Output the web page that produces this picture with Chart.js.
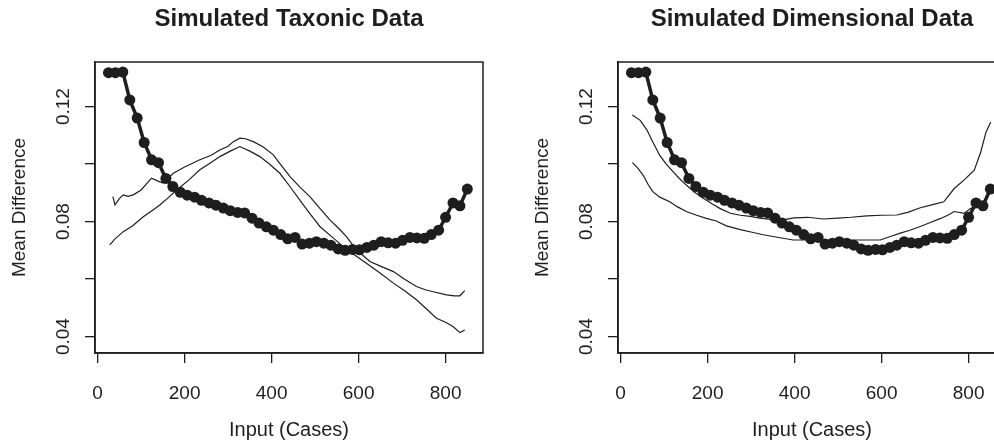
<!DOCTYPE html>
<html>
<head>
<meta charset="utf-8">
<script src="https://cdn.jsdelivr.net/npm/chart.js@4/dist/chart.umd.min.js"></script>
<style>
  html, body { margin: 0; padding: 0; background: #fff; overflow: hidden; }
  #wrap { display: flex; width: 1046px; height: 446px; }
  canvas { display: block; }
</style>
</head>
<body>
<div id="wrap">
  <canvas id="taxonic" width="523" height="446"></canvas>
  <canvas id="dimensional" width="523" height="446"></canvas>
</div>
<script>
// observed data (same in both panels)
const caseX = [25, 41, 58, 74, 91, 107, 124, 140, 157, 173, 190, 206, 223, 239, 256, 272, 289, 305, 322, 338,
  355, 371, 388, 404, 421, 437, 454, 470, 487, 503, 520, 536, 553, 569, 586, 602, 619, 635, 652, 668,
  685, 701, 718, 734, 751, 767, 784, 800, 817, 833, 850];
const meanDiff = [0.1318, 0.1318, 0.1320, 0.1223, 0.1160, 0.1075, 0.1015, 0.1005, 0.0950, 0.0922,
  0.0902, 0.0892, 0.0885, 0.0874, 0.0865, 0.0857, 0.0847, 0.0838, 0.0832, 0.0830,
  0.0812, 0.0795, 0.0782, 0.0770, 0.0755, 0.0740, 0.0745, 0.0722, 0.0725, 0.0730,
  0.0725, 0.0718, 0.0705, 0.0700, 0.0703, 0.0702, 0.0710, 0.0718, 0.0730, 0.0726,
  0.0725, 0.0735, 0.0745, 0.0743, 0.0742, 0.0755, 0.0770, 0.0815, 0.0865, 0.0855, 0.0913];

// simulated taxonic comparison curves
const taxAX = [35, 40, 50, 59, 70, 82, 100, 124, 140, 151, 174, 200, 235, 260, 281, 300, 312, 327, 340, 358,
  380, 404, 420, 442, 465, 488, 510, 534, 555, 572, 595, 626, 650, 680, 705, 733, 755, 772, 802, 820, 833, 844];
const taxAY = [0.0887, 0.0858, 0.0880, 0.0893, 0.0888, 0.0893, 0.0910, 0.0951, 0.0940, 0.0934, 0.0968, 0.0990,
  0.1015, 0.1030, 0.1049, 0.1062, 0.1078, 0.1090, 0.1088, 0.1078, 0.1060, 0.1032, 0.1000, 0.0957, 0.0920,
  0.0887, 0.0848, 0.0806, 0.0775, 0.0748, 0.0702, 0.0661, 0.0645, 0.0626, 0.0600, 0.0574, 0.0562, 0.0556,
  0.0545, 0.0542, 0.0542, 0.0560];
const taxBX = [28, 40, 59, 80, 105, 125, 143, 160, 182, 210, 235, 260, 281, 305, 327, 350, 373, 395, 419, 442,
  465, 488, 511, 540, 565, 590, 618, 650, 680, 705, 733, 755, 779, 800, 817, 833, 844];
const taxBY = [0.0719, 0.0740, 0.0765, 0.0785, 0.0817, 0.0838, 0.0858, 0.0880, 0.0910, 0.0945, 0.0980, 0.1005,
  0.1026, 0.1045, 0.1061, 0.1045, 0.1026, 0.1000, 0.0968, 0.0922, 0.0875, 0.0828, 0.0783, 0.0745, 0.0713,
  0.0685, 0.0655, 0.0620, 0.0586, 0.0560, 0.0528, 0.0498, 0.0464, 0.0450, 0.0435, 0.0414, 0.0423];

// simulated dimensional comparison curves
const dimAX = [27, 45, 60, 74, 90, 105, 121, 135, 151, 170, 190, 210, 228, 252, 275, 298, 320, 345, 370, 399,
  430, 466, 500, 530, 566, 600, 635, 660, 689, 715, 743, 767, 790, 813, 828, 840, 851];
const dimAY = [0.1171, 0.1152, 0.1120, 0.1077, 0.1030, 0.1000, 0.0973, 0.0950, 0.0927, 0.0902, 0.0881, 0.0862,
  0.0846, 0.0829, 0.0822, 0.0818, 0.0812, 0.0808, 0.0805, 0.0813, 0.0815, 0.0809, 0.0812, 0.0815, 0.0820,
  0.0822, 0.0823, 0.0832, 0.0848, 0.0858, 0.0869, 0.0915, 0.0945, 0.0979, 0.1042, 0.1111, 0.1146];
const dimBX = [27, 40, 52, 63, 74, 90, 113, 130, 151, 175, 197, 220, 243, 275, 305, 325, 344, 370, 397, 430,
  466, 500, 536, 566, 597, 620, 643, 665, 689, 712, 736, 752, 767, 790, 805, 820, 835];
const dimBY = [0.1005, 0.0985, 0.0961, 0.0930, 0.0904, 0.0885, 0.0869, 0.0852, 0.0835, 0.0822, 0.0811, 0.0802,
  0.0785, 0.0772, 0.0762, 0.0755, 0.0750, 0.0743, 0.0736, 0.0736, 0.0735, 0.0736, 0.0736, 0.0736, 0.0736,
  0.0748, 0.0760, 0.0770, 0.0783, 0.0797, 0.0811, 0.0822, 0.0835, 0.0829, 0.0846, 0.0850, 0.0855];

const xTicks = [0, 200, 400, 600, 800];
const yTicks = [0.04, 0.06, 0.08, 0.10, 0.12];
const yTickLabels = ['0.04', '', '0.08', '', '0.12'];

const ink = '#1e1e1e';
const fontFamily = '"Liberation Sans", Arial, sans-serif';

const pts = (xs, ys) => xs.map((x, i) => ({ x: x, y: ys[i] }));

// R-style box round the plot region plus the bold main title
const frame = {
  id: 'frame',
  afterDraw(chart, args, opts) {
    const { ctx, chartArea: a } = chart;
    ctx.save();
    ctx.strokeStyle = ink;
    ctx.lineWidth = 1.5;
    ctx.strokeRect(a.left, a.top, a.right - a.left, a.bottom - a.top);
    ctx.font = 'bold 24px ' + fontFamily;
    ctx.fillStyle = ink;
    ctx.textAlign = 'center';
    ctx.textBaseline = 'alphabetic';
    ctx.fillText(opts.text, (a.left + a.right) / 2, 26);
    ctx.restore();
  }
};

function makePanel(id, title, curves) {
  const thin = curves.map(c => ({
    data: pts(c[0], c[1]),
    showLine: true,
    borderColor: ink,
    borderWidth: 1.2,
    pointRadius: 0,
    tension: 0
  }));
  new Chart(document.getElementById(id), {
    type: 'scatter',
    data: {
      datasets: [{
        data: pts(caseX, meanDiff),
        showLine: true,
        borderColor: ink,
        backgroundColor: ink,
        borderWidth: 3.5,
        pointRadius: 5.5,
        pointBorderWidth: 0,
        tension: 0
      }].concat(thin)
    },
    options: {
      responsive: false,
      animation: false,
      layout: { padding: { top: 62, right: 40, left: 0, bottom: 0 } },
      plugins: {
        legend: { display: false },
        tooltip: { enabled: false },
        frame: { text: title }
      },
      scales: {
        x: {
          type: 'linear',
          min: -6,
          max: 886,
          afterBuildTicks: s => { s.ticks = xTicks.map(v => ({ value: v })); },
          afterFit: s => { s.height = 93; },
          grid: { drawOnChartArea: false, drawTicks: true, tickLength: 10, color: ink, lineWidth: 1.3 },
          border: { display: true, color: ink, width: 1.5 },
          ticks: { color: ink, padding: 19, font: { family: fontFamily, size: 19 } },
          title: { display: true, text: 'Input (Cases)', color: ink, padding: { top: 0, bottom: 4 },
            font: { family: fontFamily, size: 20 } }
        },
        y: {
          type: 'linear',
          min: 0.0343,
          max: 0.1355,
          afterBuildTicks: s => { s.ticks = yTicks.map(v => ({ value: v })); },
          afterFit: s => { s.width = 95; },
          grid: { drawOnChartArea: false, drawTicks: true, tickLength: 10, color: ink, lineWidth: 1.3 },
          border: { display: true, color: ink, width: 1.5 },
          ticks: {
            color: ink,
            padding: 3,
            minRotation: 90,
            maxRotation: 90,
            crossAlign: 'center',
            font: { family: fontFamily, size: 19 },
            callback: (v, i) => yTickLabels[i]
          },
          title: { display: true, text: 'Mean Difference', color: ink, padding: { top: 8, bottom: 0 },
            font: { family: fontFamily, size: 19 } }
        }
      }
    },
    plugins: [frame]
  });
}

makePanel('taxonic', 'Simulated Taxonic Data', [[taxAX, taxAY], [taxBX, taxBY]]);
makePanel('dimensional', 'Simulated Dimensional Data', [[dimAX, dimAY], [dimBX, dimBY]]);
</script>
</body>
</html>
